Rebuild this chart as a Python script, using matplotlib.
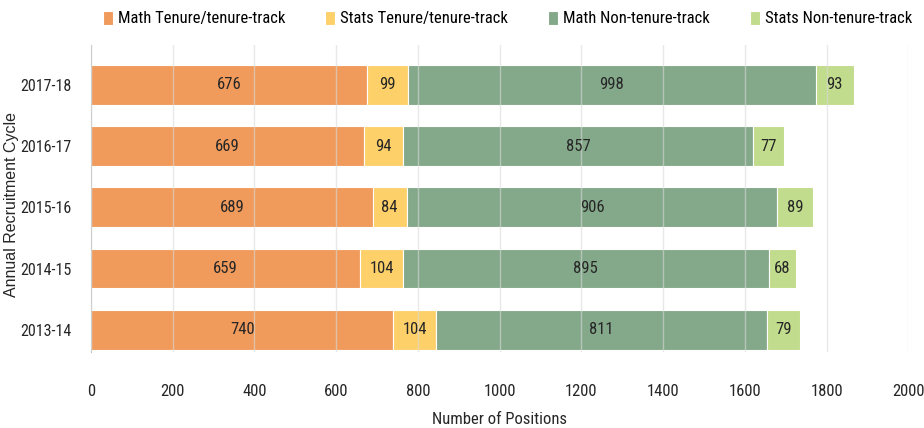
import matplotlib.pyplot as plt
import numpy as np
from matplotlib import font_manager

cycles = ["2013-14", "2014-15", "2015-16", "2016-17", "2017-18"]
math_tt = [740, 659, 689, 669, 676]
stats_tt = [104, 104, 84, 94, 99]
math_ntt = [811, 895, 906, 857, 998]
stats_ntt = [79, 68, 89, 77, 93]

series = [
    ("Math Tenure/tenure-track", math_tt, "#F09B5C"),
    ("Stats Tenure/tenure-track", stats_tt, "#FDD06A"),
    ("Math Non-tenure-track", math_ntt, "#84A98A"),
    ("Stats Non-tenure-track", stats_ntt, "#C1DC8C"),
]

# pick a condensed face if one is installed
names = {f.name for f in font_manager.fontManager.ttflist}
narrow = "Roboto"
for cand in ["Roboto Condensed", "Liberation Sans Narrow", "Open Sans Condensed"]:
    if cand in names:
        narrow = cand
        break
cond = dict(family=narrow, stretch="condensed")

fig = plt.figure(figsize=(9.24, 4.28), dpi=100)
ax = fig.add_axes([0.0985, 0.178, 0.8845, 0.717])

y = np.arange(len(cycles))
left = np.zeros(len(cycles))
handles = []
for label, vals, color in series:
    vals = np.array(vals, dtype=float)
    b = ax.barh(y, vals, left=left, height=0.65, color=color, edgecolor="white",
                linewidth=0.8, label=label, zorder=2)
    handles.append(b)
    for yi, l, v in zip(y, left, vals):
        ax.text(l + v / 2, yi, f"{int(v)}", ha="center", va="center",
                fontsize=12, color="#262626", zorder=4, **cond)
    left += vals

ax.set_xlim(0, 2000)
ax.set_ylim(-0.36, 4.65)
ax.set_xticks(range(0, 2001, 200))
ax.set_yticks(y)
ax.set_yticklabels(cycles)
ax.xaxis.grid(True, color="#D9D9D9", linewidth=1, alpha=0.6, zorder=3)
ax.set_axisbelow(False)
for s in ["top", "right", "bottom"]:
    ax.spines[s].set_visible(False)
ax.spines["left"].set_color("#BFBFBF")
ax.tick_params(axis="y", length=0, pad=14)
ax.tick_params(axis="x", length=0, pad=23)
for t in ax.get_xticklabels() + ax.get_yticklabels():
    t.set_family(narrow)
    t.set_stretch("condensed")
    t.set_fontsize(12)
    t.set_color("#262626")
for t in ax.get_yticklabels():
    t.set_fontsize(11.5)

ax.set_xlabel("Number of Positions", fontsize=12, color="#262626", **cond)
ax.xaxis.set_label_coords(0.5, -0.195)
ax.set_ylabel("Annual Recruitment Cycle", family="Liberation Sans", fontsize=11.5,
              color="#262626")
ax.yaxis.set_label_coords(-0.088, 0.48)

fig.legend(handles=handles, loc="upper center", bbox_to_anchor=(0.549, 1.01), ncol=4,
           frameon=False, handlelength=0.6, handleheight=0.9, handletextpad=0.3,
           columnspacing=2.4, prop={"family": narrow, "stretch": "condensed", "size": 12})

fig.savefig("out.png", dpi=100)
